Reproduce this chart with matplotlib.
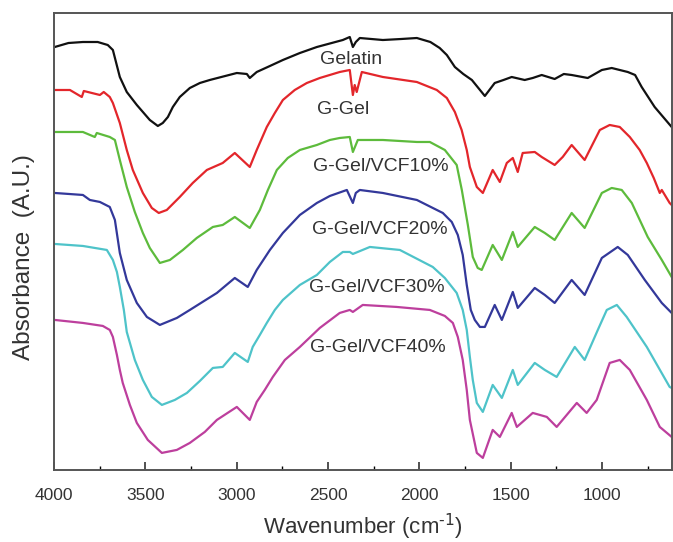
import matplotlib
matplotlib.use("Agg")
import matplotlib.pyplot as plt
from matplotlib.ticker import MultipleLocator

plt.rcParams['font.family'] = ['Liberation Sans', 'DejaVu Sans']
plt.rcParams['mathtext.default'] = 'regular'

# --- spectra (wavenumber cm-1, absorbance a.u.) ---
gel_wn = [3995, 3920, 3841, 3760, 3705, 3677, 3639, 3601, 3546, 3475, 3431, 3404, 3376, 3349, 3311,
          3256, 3201, 3147, 2999, 2944, 2928, 2890, 2818, 2747, 2654, 2561, 2419, 2381, 2364, 2348,
          2326, 2200, 2100, 2014, 1940, 1889, 1850, 1806, 1760, 1713, 1642, 1588, 1540, 1495, 1424,
          1380, 1331, 1260, 1210, 1167, 1079, 1002, 948, 860, 820, 784, 713, 620]
gel_abs = [4.23, 4.27, 4.28, 4.28, 4.25, 4.20, 3.93, 3.78, 3.65, 3.50, 3.44, 3.47, 3.53, 3.63, 3.73,
           3.82, 3.87, 3.90, 3.97, 3.96, 3.92, 3.98, 4.04, 4.10, 4.17, 4.23, 4.30, 4.33, 4.23, 4.28,
           4.32, 4.30, 4.31, 4.32, 4.28, 4.22, 4.15, 4.03, 3.96, 3.90, 3.74, 3.87, 3.90, 3.93, 3.90,
           3.92, 3.95, 3.91, 3.96, 3.95, 3.92, 4.00, 4.02, 3.98, 3.95, 3.83, 3.63, 3.43]

ggel_wn = [3995, 3912, 3847, 3836, 3748, 3727, 3694, 3677, 3639, 3601, 3568, 3513, 3464, 3426, 3382,
           3311, 3240, 3163, 3076, 3010, 2928, 2890, 2835, 2791, 2747, 2682, 2616, 2545, 2436, 2381,
           2364, 2354, 2343, 2315, 2200, 2014, 1905, 1850, 1806, 1769, 1741, 1724, 1686, 1653, 1599,
           1560, 1522, 1489, 1462, 1435, 1369, 1331, 1260, 1216, 1167, 1096, 1013, 959, 904, 849,
           795, 756, 718, 685, 674, 631, 620]
ggel_abs = [3.80, 3.80, 3.73, 3.79, 3.75, 3.78, 3.73, 3.67, 3.47, 3.20, 3.00, 2.77, 2.62, 2.57, 2.60,
            2.73, 2.87, 3.00, 3.07, 3.17, 3.03, 3.20, 3.43, 3.57, 3.70, 3.80, 3.87, 3.92, 3.98, 4.00,
            3.75, 3.85, 3.78, 3.98, 3.93, 3.88, 3.80, 3.72, 3.58, 3.40, 3.20, 3.03, 2.83, 2.77, 3.00,
            2.88, 3.07, 3.12, 2.98, 3.17, 3.18, 3.13, 3.05, 3.13, 3.25, 3.10, 3.40, 3.45, 3.43, 3.33,
            3.20, 3.07, 2.92, 2.77, 2.80, 2.67, 2.65]

vcf10_wn = [3995, 3841, 3776, 3765, 3694, 3666, 3639, 3601, 3557, 3513, 3475, 3420, 3365, 3294, 3218,
            3130, 3076, 3010, 2928, 2873, 2829, 2780, 2720, 2654, 2561, 2490, 2436, 2381, 2364, 2337,
            2200, 2014, 1943, 1861, 1796, 1768, 1735, 1708, 1681, 1659, 1599, 1549, 1489, 1462, 1369,
            1314, 1260, 1167, 1096, 1002, 948, 893, 838, 751, 674, 620]
vcf10_abs = [3.38, 3.38, 3.33, 3.37, 3.33, 3.30, 3.10, 2.83, 2.58, 2.37, 2.22, 2.07, 2.10, 2.20, 2.32,
             2.43, 2.45, 2.53, 2.42, 2.60, 2.80, 3.00, 3.12, 3.20, 3.25, 3.30, 3.32, 3.33, 3.18, 3.30,
             3.30, 3.28, 3.28, 3.20, 3.05, 2.80, 2.45, 2.13, 2.02, 2.00, 2.25, 2.10, 2.38, 2.23, 2.43,
             2.37, 2.30, 2.57, 2.42, 2.77, 2.82, 2.80, 2.67, 2.33, 2.10, 1.93]

vcf20_wn = [3995, 3841, 3803, 3748, 3694, 3666, 3639, 3601, 3546, 3491, 3420, 3327, 3256, 3108, 3010,
            2939, 2890, 2818, 2747, 2654, 2561, 2490, 2397, 2364, 2348, 2326, 2200, 2014, 1872, 1823,
            1790, 1763, 1741, 1719, 1697, 1669, 1642, 1588, 1549, 1489, 1462, 1369, 1314, 1260, 1167,
            1096, 1002, 915, 860, 767, 674, 620]
vcf20_abs = [2.77, 2.75, 2.70, 2.68, 2.63, 2.50, 2.17, 1.90, 1.67, 1.53, 1.45, 1.52, 1.60, 1.77, 1.92,
             1.83, 2.00, 2.20, 2.37, 2.55, 2.67, 2.74, 2.80, 2.67, 2.77, 2.80, 2.77, 2.70, 2.57, 2.48,
             2.35, 2.15, 1.85, 1.60, 1.50, 1.43, 1.43, 1.65, 1.50, 1.78, 1.62, 1.82, 1.75, 1.67, 1.90,
             1.75, 2.12, 2.23, 2.15, 1.90, 1.67, 1.57]

vcf30_wn = [3995, 3841, 3710, 3677, 3655, 3639, 3617, 3601, 3557, 3513, 3464, 3409, 3338, 3272, 3201,
            3130, 3076, 3010, 2939, 2912, 2873, 2835, 2791, 2747, 2654, 2561, 2490, 2419, 2381, 2364,
            2271, 2107, 1927, 1861, 1796, 1763, 1741, 1724, 1708, 1686, 1653, 1599, 1549, 1489, 1462,
            1369, 1314, 1249, 1150, 1096, 1024, 975, 920, 866, 756, 631, 620]
vcf30_abs = [2.26, 2.24, 2.20, 2.10, 1.98, 1.83, 1.60, 1.38, 1.10, 0.90, 0.73, 0.65, 0.70, 0.77, 0.89,
             1.02, 1.03, 1.17, 1.08, 1.23, 1.35, 1.47, 1.60, 1.70, 1.85, 1.95, 2.08, 2.18, 2.18, 2.16,
             2.23, 2.20, 2.03, 1.92, 1.77, 1.60, 1.40, 1.13, 0.90, 0.67, 0.58, 0.85, 0.72, 1.00, 0.85,
             1.07, 1.00, 0.93, 1.23, 1.10, 1.40, 1.60, 1.65, 1.53, 1.23, 0.83, 0.82]

vcf40_wn = [3995, 3841, 3732, 3694, 3677, 3655, 3639, 3623, 3584, 3546, 3486, 3409, 3327, 3256, 3174,
            3108, 2999, 2928, 2890, 2846, 2802, 2736, 2654, 2545, 2436, 2381, 2364, 2310, 2124, 1943,
            1861, 1817, 1790, 1763, 1741, 1724, 1686, 1653, 1599, 1560, 1495, 1467, 1380, 1303, 1249,
            1139, 1085, 1030, 959, 904, 849, 756, 685, 620]
vcf40_abs = [1.50, 1.47, 1.44, 1.40, 1.33, 1.15, 1.00, 0.87, 0.65, 0.47, 0.30, 0.17, 0.20, 0.27, 0.38,
             0.50, 0.63, 0.50, 0.68, 0.80, 0.93, 1.10, 1.23, 1.42, 1.57, 1.60, 1.58, 1.65, 1.63, 1.60,
             1.54, 1.47, 1.33, 1.10, 0.80, 0.50, 0.17, 0.12, 0.40, 0.33, 0.57, 0.43, 0.57, 0.53, 0.43,
             0.67, 0.57, 0.70, 1.07, 1.10, 1.00, 0.70, 0.43, 0.33]

names = ["Gelatin", "G-Gel", "G-Gel/VCF10%", "G-Gel/VCF20%", "G-Gel/VCF30%", "G-Gel/VCF40%"]
colors = ["#111111", "#e3262b", "#5dbb3c", "#33389a", "#4ec3c9", "#bd3f9d"]
label_x = [2375, 2419, 2211, 2217, 2233, 2228]
label_y = [4.10, 3.60, 3.03, 2.40, 1.82, 1.22]

series = [(gel_wn, gel_abs), (ggel_wn, ggel_abs), (vcf10_wn, vcf10_abs),
          (vcf20_wn, vcf20_abs), (vcf30_wn, vcf30_abs), (vcf40_wn, vcf40_abs)]

fig = plt.figure(figsize=(6.73, 5.42), dpi=100)
ax = fig.add_axes([0.080, 0.133, 0.918, 0.843])

for (wn, ab), c in zip(series, colors):
    ax.plot(wn, ab, color=c, lw=1.6, solid_joinstyle="round")

for name, lx, ly in zip(names, label_x, label_y):
    ax.text(lx, ly, name, fontsize=14, color="#333333", ha="center", va="center")

ax.set_xlim(4000, 620)
ax.set_ylim(0, 4.57)
ax.xaxis.set_major_locator(MultipleLocator(500))
ax.xaxis.set_minor_locator(MultipleLocator(250))
ax.set_yticks([])
ax.tick_params(axis="x", which="major", direction="in", length=6, width=1.2,
               labelsize=12.5, pad=13, colors="#333333")
ax.tick_params(axis="x", which="minor", direction="in", length=3, width=1.0)
for sp in ax.spines.values():
    sp.set_linewidth(1.4)
    sp.set_color("#555555")

ax.set_xlabel(r"Wavenumber (cm$^{\text{-1}}$)", fontsize=16, color="#333333", labelpad=6)
ax.set_ylabel("Absorbance  (A.U.)", fontsize=17.5, color="#333333")
ax.yaxis.set_label_coords(-0.031, 0.466)

fig.savefig("out.png", dpi=100)
